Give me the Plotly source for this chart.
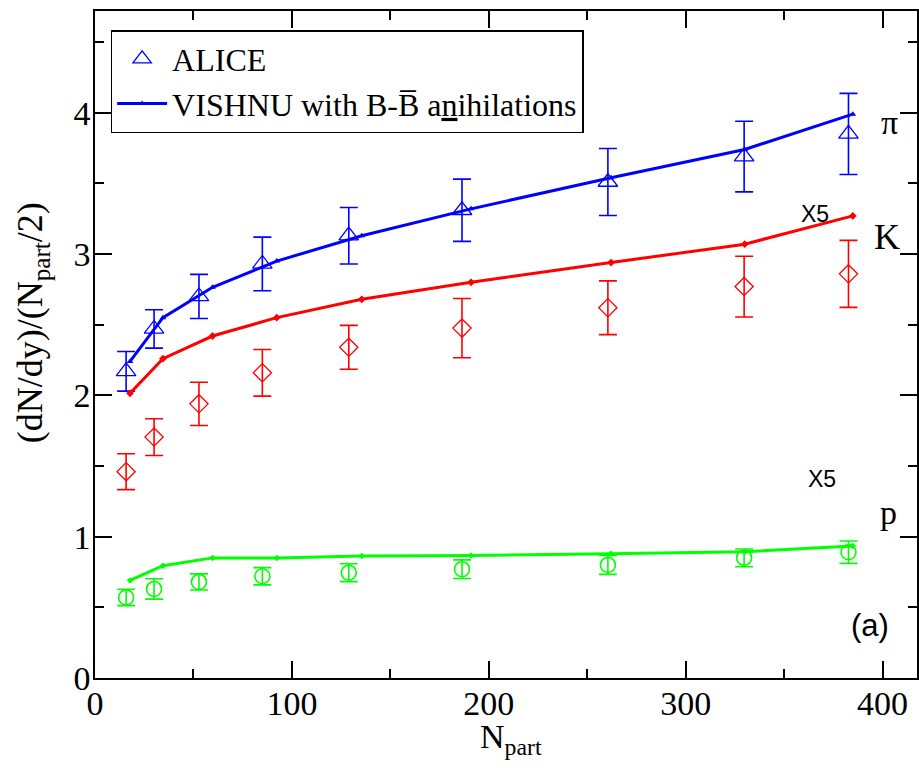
import plotly.graph_objects as go

# ---- data ----
npart_alice = [15.8, 30.0, 52.8, 85.0, 128.9, 186.4, 260.5, 329.7, 382.7]
pi_alice = [2.17, 2.47, 2.70, 2.93, 3.13, 3.31, 3.51, 3.69, 3.85]
pi_err = [0.14, 0.136, 0.156, 0.19, 0.20, 0.22, 0.237, 0.25, 0.287]
k_alice = [1.46, 1.705, 1.94, 2.16, 2.34, 2.476, 2.62, 2.77, 2.86]
k_err = [0.127, 0.13, 0.153, 0.165, 0.155, 0.21, 0.19, 0.215, 0.237]
p_alice = [0.57, 0.63, 0.68, 0.72, 0.745, 0.77, 0.80, 0.85, 0.89]
p_err = [0.058, 0.072, 0.057, 0.061, 0.063, 0.066, 0.067, 0.063, 0.079]

npart_vishnu = [17.8, 34.5, 59.7, 92.3, 135.5, 191.0, 262.1, 330.0, 384.9]
pi_vishnu = [2.24, 2.55, 2.765, 2.95, 3.13, 3.32, 3.54, 3.74, 3.99]
k_vishnu = [2.015, 2.26, 2.42, 2.55, 2.68, 2.80, 2.94, 3.07, 3.27]
p_vishnu = [0.69, 0.795, 0.85, 0.85, 0.863, 0.866, 0.88, 0.894, 0.934]

x_ticks = [0, 100, 200, 300, 400]
y_ticks = [0, 1, 2, 3, 4]

BLUE, RED, GREEN = "#0000ff", "#ff0000", "#00ff00"
SERIF = "Liberation Serif, Times New Roman, serif"
SANS = "Liberation Sans, Arial, sans-serif"

fig = go.Figure()

def err(arr, color):
    return dict(type="data", array=arr, visible=True, color=color, thickness=1.6, width=9)

fig.add_trace(go.Scatter(x=npart_alice, y=pi_alice, mode="markers", name="ALICE",
                         marker=dict(symbol="triangle-up-open", size=17, color=BLUE, line=dict(width=1.3)),
                         error_y=err(pi_err, BLUE)))
fig.add_trace(go.Scatter(x=npart_vishnu, y=pi_vishnu, mode="lines+markers",
                         name="VISHNU with B-B\u0305 a<u>n</u>ihilations",
                         line=dict(color=BLUE, width=3),
                         marker=dict(symbol="triangle-up", size=6, color=BLUE)))
fig.add_trace(go.Scatter(x=npart_alice, y=k_alice, mode="markers", showlegend=False,
                         marker=dict(symbol="diamond-open", size=14, color=RED, line=dict(width=1.3)),
                         error_y=err(k_err, RED)))
fig.add_trace(go.Scatter(x=npart_vishnu, y=k_vishnu, mode="lines+markers", showlegend=False,
                         line=dict(color=RED, width=3),
                         marker=dict(symbol="diamond", size=6, color=RED)))
fig.add_trace(go.Scatter(x=npart_alice, y=p_alice, mode="markers", showlegend=False,
                         marker=dict(symbol="circle-open", size=15, color=GREEN, line=dict(width=1.6)),
                         error_y=err(p_err, GREEN)))
fig.add_trace(go.Scatter(x=npart_vishnu, y=p_vishnu, mode="lines+markers", showlegend=False,
                         line=dict(color=GREEN, width=3),
                         marker=dict(symbol="diamond", size=5, color=GREEN)))

axis_common = dict(showgrid=False, zeroline=False, showline=True, linecolor="black", linewidth=1.6,
                   mirror="ticks", ticks="inside", tickcolor="black", tickwidth=1.6, ticklen=17,
                   tickfont=dict(family=SERIF, size=34, color="black"))

fig.update_xaxes(range=[0, 417.5], tickvals=x_ticks, ticklabelstandoff=-6,
                 minor=dict(dtick=50, ticklen=9, ticks="inside", tickcolor="black", tickwidth=1.6),
                 **axis_common)
fig.update_yaxes(range=[0, 4.72], tickvals=y_ticks, ticklabelstandoff=-4,
                 minor=dict(dtick=0.5, ticklen=9, ticks="inside", tickcolor="black", tickwidth=1.6),
                 **axis_common)

annotations = [
    dict(text="(dN/dy)/(N<sub>part</sub>/2)", xref="paper", yref="paper", x=-0.0765, y=0.532,
         xanchor="center", yanchor="middle",
         textangle=-90, showarrow=False, font=dict(family=SERIF, size=36, color="black")),
    dict(text="N<sub>part</sub>", xref="paper", yref="paper", x=0.506, y=-0.126,
         xanchor="center", showarrow=False, font=dict(family=SERIF, size=34, color="black")),
    dict(text="\u03c0", xref="x", yref="y", x=403.5, y=3.93, showarrow=False,
         font=dict(family=SERIF, size=34, color="black")),
    dict(text="K", xref="x", yref="y", x=402.3, y=3.118, showarrow=False,
         font=dict(family=SERIF, size=36, color="black")),
    dict(text="p", xref="x", yref="y", x=403.0, y=1.17, showarrow=False,
         font=dict(family=SERIF, size=34, color="black")),
    dict(text="X5", xref="x", yref="y", x=365.5, y=3.284, showarrow=False,
         font=dict(family=SANS, size=23, color="black")),
    dict(text="X5", xref="x", yref="y", x=369.5, y=1.408, showarrow=False,
         font=dict(family=SANS, size=23, color="black")),
    dict(text="(a)", xref="x", yref="y", x=393.5, y=0.369, showarrow=False,
         font=dict(family=SANS, size=31, color="black")),
]

fig.update_layout(
    width=919, height=777,
    margin=dict(l=95, r=0, t=11, b=99),
    paper_bgcolor="white", plot_bgcolor="white",
    showlegend=True,
    legend=dict(x=0.019, y=0.9715, xanchor="left", yanchor="top",
                bgcolor="white", bordercolor="black", borderwidth=1.5,
                font=dict(family=SERIF, size=32, color="black"),
                itemwidth=50, tracegroupgap=0),
    annotations=annotations,
)

fig.write_html("out.html")
